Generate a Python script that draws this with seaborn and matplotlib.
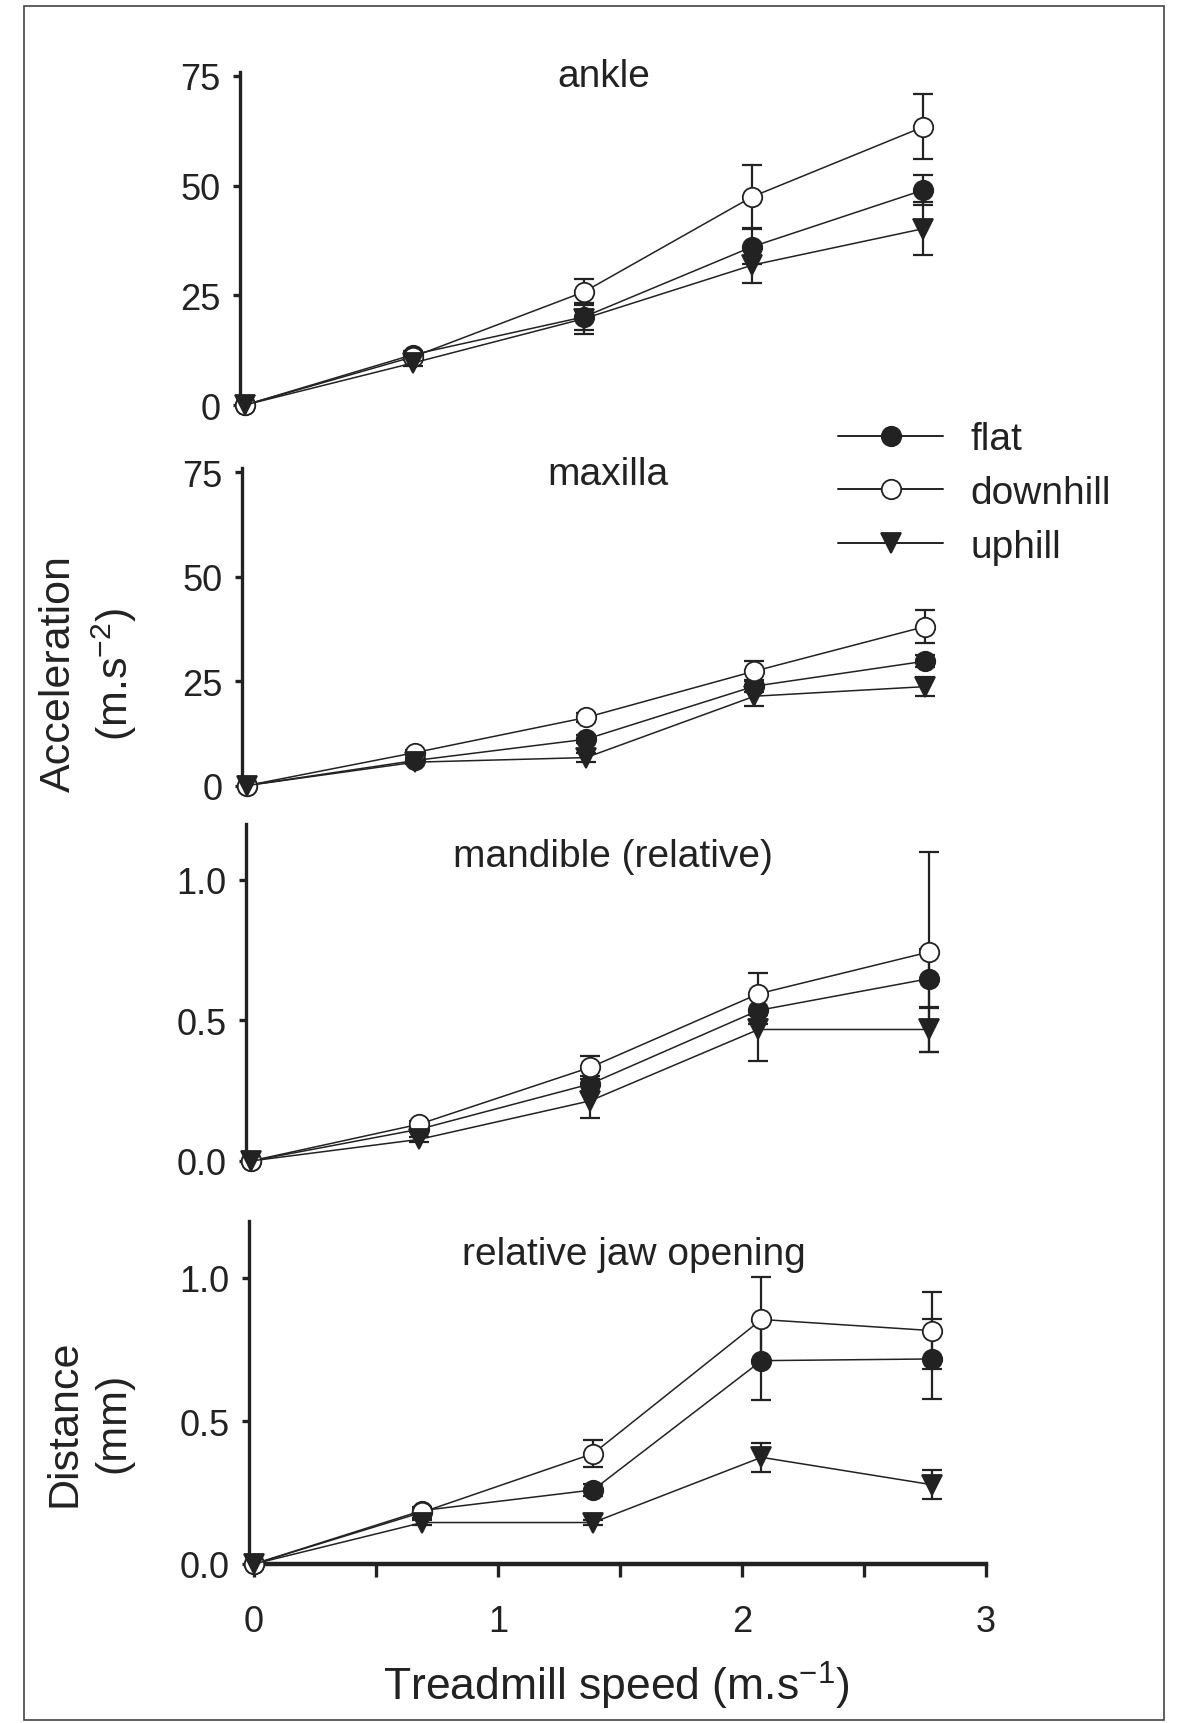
import numpy as np
import pandas as pd
import seaborn as sns
import matplotlib.pyplot as plt
from matplotlib.lines import Line2D
from matplotlib.patches import Rectangle
from matplotlib.ticker import MultipleLocator, FixedLocator

# treadmill speeds (m/s)
speed = [0, 0.69, 1.39, 2.08, 2.78]
conditions = ["flat", "downhill", "uphill"]

# ankle acceleration (m.s-2)
ankle_flat = [0, 11.5, 20.1, 36.1, 49.0]
ankle_downhill = [0, 11.0, 25.8, 47.5, 63.4]
ankle_uphill = [0, 9.6, 19.7, 31.9, 40.2]
ankle_flat_err = [0, 0.8, 3.0, 4.0, 3.5]
ankle_downhill_err = [0, 0.8, 3.0, 7.2, 7.4]
ankle_uphill_err = [0, 0.8, 3.5, 4.0, 6.0]

# maxilla acceleration (m.s-2)
maxilla_flat = [0, 6.0, 11.1, 23.8, 29.8]
maxilla_downhill = [0, 7.9, 16.3, 27.4, 38.1]
maxilla_uphill = [0, 5.6, 6.7, 21.4, 23.7]
maxilla_flat_err = [0, 0.5, 1.0, 1.5, 1.5]
maxilla_downhill_err = [0, 0.5, 1.0, 2.4, 3.9]
maxilla_uphill_err = [0, 0.5, 1.0, 2.4, 2.3]

# mandible (relative)
mandible_flat = [0, 0.113, 0.274, 0.536, 0.649]
mandible_downhill = [0, 0.131, 0.333, 0.595, 0.744]
mandible_uphill = [0, 0.077, 0.214, 0.468, 0.468]
mandible_flat_err = [0, 0.01, 0.03, 0.05, 0.104]
mandible_downhill_err = [0, 0.01, 0.042, 0.075, 0.357]
mandible_uphill_err = [0, 0.01, 0.06, 0.113, 0.08]

# relative jaw opening (mm)
jaw_flat = [0, 0.187, 0.259, 0.711, 0.717]
jaw_downhill = [0, 0.181, 0.386, 0.855, 0.816]
jaw_uphill = [0, 0.145, 0.145, 0.373, 0.277]
jaw_flat_err = [0, 0.01, 0.02, 0.139, 0.139]
jaw_downhill_err = [0, 0.02, 0.048, 0.147, 0.134]
jaw_uphill_err = [0, 0.01, 0.01, 0.05, 0.05]

panel_titles = ["ankle", "maxilla", "mandible (relative)", "relative jaw opening"]
panel_means = [
    [ankle_flat, ankle_downhill, ankle_uphill],
    [maxilla_flat, maxilla_downhill, maxilla_uphill],
    [mandible_flat, mandible_downhill, mandible_uphill],
    [jaw_flat, jaw_downhill, jaw_uphill],
]
panel_errs = [
    [ankle_flat_err, ankle_downhill_err, ankle_uphill_err],
    [maxilla_flat_err, maxilla_downhill_err, maxilla_uphill_err],
    [mandible_flat_err, mandible_downhill_err, mandible_uphill_err],
    [jaw_flat_err, jaw_downhill_err, jaw_uphill_err],
]

rows = []
for p, (means, errs) in enumerate(zip(panel_means, panel_errs)):
    for cond, m, e in zip(conditions, means, errs):
        for s, v, se in zip(speed, m, e):
            rows.append(dict(panel=p, condition=cond, speed=s, value=v, err=se))
df = pd.DataFrame(rows)

sns.set_style("ticks")
plt.rcParams["font.family"] = ["Liberation Sans", "DejaVu Sans"]
plt.rcParams["mathtext.fontset"] = "custom"
plt.rcParams["mathtext.rm"] = "Liberation Sans"
plt.rcParams["mathtext.it"] = "Liberation Sans:italic"

ink = "#222222"
W, H = 1177, 1724
fig = plt.figure(figsize=(W / 100, H / 100), dpi=100)

# axes boxes in pixels: (left shift, top, bottom)
boxes = [(-9, 72.6, 412.6), (-7, 469.3, 792.8), (-3, 824.8, 1167.6), (0, 1221.8, 1565.0)]
ylims = [(-1.5, 76), (-1.5, 76), (-0.02, 1.2), (0, 1.2)]
yticks = [[0, 25, 50, 75], [0, 25, 50, 75], [0, 0.5, 1.0], [0, 0.5, 1.0]]
title_pos = [(604, 77), (608, 475), (613, 857), (634, 1255)]

styles = {
    "flat": dict(marker="o", markerfacecolor=ink),
    "downhill": dict(marker="o", markerfacecolor="white"),
    "uphill": dict(marker="v", markerfacecolor=ink),
}

axes = []
for p in range(4):
    dx, top, bot = boxes[p]
    ax = fig.add_axes([(249 + dx) / W, 1 - bot / H, 737 / W, (bot - top) / H])
    axes.append(ax)
    for cond in conditions:
        sub = df[(df.panel == p) & (df.condition == cond)]
        ax.errorbar(sub.speed, sub.value, yerr=sub.err, fmt="none", ecolor=ink,
                    elinewidth=1.6, capsize=7, capthick=1.6, zorder=2, clip_on=False)
        sns.lineplot(data=sub, x="speed", y="value", ax=ax, color=ink, lw=1.1,
                     markersize=14, markeredgecolor=ink, markeredgewidth=1.3,
                     zorder=3, clip_on=False, legend=False, errorbar=None,
                     **styles[cond])
    ax.set_xlim(-0.02, 3.0)
    ax.set_ylim(*ylims[p])
    ax.yaxis.set_major_locator(FixedLocator(yticks[p]))
    if p >= 2:
        ax.set_yticklabels([f"{t:.1f}" for t in yticks[p]])
    ax.set_xlabel("")
    ax.set_ylabel("")
    for side in ["top", "right"]:
        ax.spines[side].set_visible(False)
    ax.spines["left"].set_linewidth(2.4)
    ax.spines["left"].set_color(ink)
    ax.tick_params(axis="y", length=5, width=2.4, pad=9, labelsize=26, colors=ink)
    if p < 3:
        ax.spines["bottom"].set_visible(False)
        ax.tick_params(axis="x", bottom=False, labelbottom=False)
    else:
        ax.spines["bottom"].set_linewidth(3.2)
        ax.spines["bottom"].set_color(ink)
        ax.xaxis.set_major_locator(MultipleLocator(1))
        ax.xaxis.set_minor_locator(MultipleLocator(0.5))
        ax.tick_params(axis="x", which="both", length=9, width=2.4, colors=ink)
        ax.tick_params(axis="x", which="major", pad=20, labelsize=26)
    fig.text(title_pos[p][0] / W, 1 - title_pos[p][1] / H, panel_titles[p],
             ha="center", va="center", fontsize=28, color=ink)

fig.text(89 / W, 1 - 674 / H, "Acceleration\n(m.s$^{-2}$)", rotation=90,
         ha="center", va="center", multialignment="center", fontsize=31,
         color=ink, linespacing=1.3)
fig.text(89 / W, 1 - 1423 / H, "Distance\n(mm)", rotation=90,
         ha="center", va="center", multialignment="center", fontsize=31,
         color=ink, linespacing=1.3)
fig.text(616 / W, 1 - 1686 / H, "Treadmill speed (m.s$^{-1}$)",
         ha="center", va="center", fontsize=32, color=ink)

handles = [Line2D([], [], color=ink, lw=1.4, markersize=14, markeredgecolor=ink,
                  markeredgewidth=1.3, **styles[c]) for c in conditions]
fig.legend(handles, conditions, loc="center left",
           bbox_to_anchor=(838 / W, 1 - 494 / H), frameon=False, fontsize=28,
           handlelength=2.7, handletextpad=0.7, labelspacing=0.45,
           borderpad=0, borderaxespad=0, labelcolor=ink)

fig.add_artist(Rectangle((24 / W, 1 - 1721 / H), 1140 / W, 1714 / H,
                         transform=fig.transFigure, fill=False,
                         edgecolor="#444444", lw=1.2))

fig.savefig("out.png", dpi=100)
